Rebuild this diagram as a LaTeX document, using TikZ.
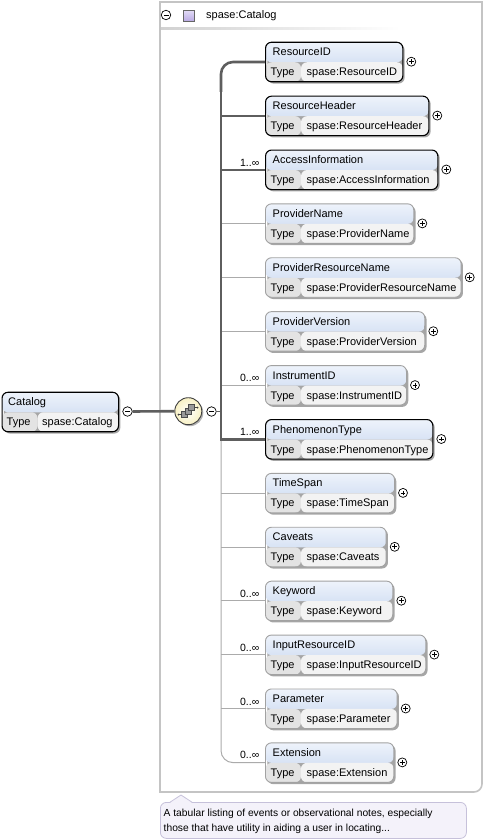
\documentclass[tikz,border=0pt]{standalone}
\usepackage{fontspec}
\setmainfont{Liberation Sans}
\usetikzlibrary{shadows}
\definecolor{hdrtop}{HTML}{EEF3FB}
\definecolor{hdrbot}{HTML}{C2D3EE}
\definecolor{typecell}{HTML}{E3E3E3}
\definecolor{valcell}{HTML}{F3F3F3}
\definecolor{mandline}{HTML}{5E5E5E}
\definecolor{optline}{HTML}{ABABAB}
\definecolor{optborder}{HTML}{A2A2A2}
\definecolor{frame}{HTML}{C4C4C4}
\definecolor{docfill}{HTML}{F4F2FA}
\definecolor{docborder}{HTML}{C6C1DA}
\definecolor{compfill}{HTML}{F8F1C4}
\definecolor{sqtop}{HTML}{E2DAF6}
\definecolor{sqbot}{HTML}{B7A8E2}
\tikzset{
  x=1pt, y=-1pt,
  etext/.style={inner sep=0pt, font=\fontsize{11}{13}\selectfont},
  lbl/.style={inner sep=0pt, font=\fontsize{10.5}{12}\selectfont},
  doctext/.style={inner sep=0pt, font=\fontsize{10.25}{12}\selectfont},
  elembox/.style={rounded corners=6pt, inner sep=0pt, anchor=north west,
    minimum height=39.5pt,
    drop shadow={shadow xshift=1.8pt, shadow yshift=-1.8pt, fill=black, opacity=0.35},
    path picture={
      \shade[top color=hdrtop, bottom color=hdrbot]
        (path picture bounding box.north west) rectangle
        ([yshift=19.5pt]path picture bounding box.south east);
      \fill[typecell] ([yshift=19.5pt]path picture bounding box.south west) rectangle
        ([xshift=35.5pt]path picture bounding box.south west);
      \fill[valcell] ([xshift=35.5pt,yshift=19.5pt]path picture bounding box.south west) rectangle
        (path picture bounding box.south east);
    }},
  mand/.style={draw=black, line width=1.1pt},
  opt/.style={draw=optborder, line width=0.9pt},
  mandwire/.style={draw=mandline, line width=2.6pt},
  optwire/.style={draw=optline, line width=1pt},
  plusc/.style={circle, draw=black, line width=0.7pt, fill=white, minimum size=9pt, inner sep=0pt,
    path picture={
      \draw[line width=0.7pt] ([xshift=-2.4pt]path picture bounding box.center) -- ([xshift=2.4pt]path picture bounding box.center);
      \draw[line width=0.7pt] ([yshift=-2.4pt]path picture bounding box.center) -- ([yshift=2.4pt]path picture bounding box.center);
    }},
  minusc/.style={circle, draw=black, line width=0.7pt, fill=white, minimum size=9.5pt, inner sep=0pt,
    path picture={
      \draw[line width=0.8pt] ([xshift=-2.5pt]path picture bounding box.center) -- ([xshift=2.5pt]path picture bounding box.center);
    }},
  compnode/.style={circle, draw=black!75, line width=0.9pt, minimum size=27pt, inner sep=0pt,
    inner color=white, outer color=compfill,
    drop shadow={shadow xshift=1.5pt, shadow yshift=-1.5pt, fill=black, opacity=0.3}},
  icsq/.style={draw=black!70, fill=black!40, line width=0.5pt},
}
\newcommand{\xel}[6]{%
  \node[elembox,#6,minimum width={(#3-265)*1pt}] (#1) at (265,#2) {};
  \node[etext,anchor=base west] (#1t) at (272.5,#2+14) {#4};
  \node[etext,anchor=base west] (#1k) at (270.5,#2+34) {Type};
  \node[etext,anchor=base west] (#1v) at (306.5,#2+34) {#5};
  \node[plusc] (#1p) at (#3+9,#2+20) {};
}
\newcommand{\xlbl}[3]{%
  \node[lbl,anchor=base east] (#1l) at (259.5,#2+16.5) {#3};
}
\begin{document}
\begin{tikzpicture}
\useasboundingbox (0,0) rectangle (485,840);
% container frame
\draw[frame, line width=1.6pt] (160,2) -- (482,2) -- (482,784) arc (0:90:8) -- (160,792) -- cycle;
\shade[left color=black!18, right color=white] (161,27.5) rectangle (400,29.5);
\node[minusc] (hm) at (166,15) {};
\node[draw=black!60, line width=0.6pt, top color=sqtop, bottom color=sqbot, minimum size=11pt, inner sep=0pt] (hsq) at (189,16) {};
\node[etext, anchor=base west] (htxt) at (206,19) {spase:Catalog};
% bus coordinate
\coordinate (bus) at (221,0);
% elements
\xel{e0}{41.7}{402.3}{ResourceID}{spase:ResourceID}{mand}
\xel{e1}{95.6}{428.3}{ResourceHeader}{spase:ResourceHeader}{mand}
\xel{e2}{149.5}{437.3}{AccessInformation}{spase:AccessInformation}{mand}
\xel{e3}{203.4}{413.3}{ProviderName}{spase:ProviderName}{opt}
\xel{e4}{257.3}{460.7}{ProviderResourceName}{spase:ProviderResourceName}{opt}
\xel{e5}{311.2}{424.3}{ProviderVersion}{spase:ProviderVersion}{opt}
\xel{e6}{365.1}{406}{InstrumentID}{spase:InstrumentID}{opt}
\xel{e7}{419.0}{432.3}{PhenomenonType}{spase:PhenomenonType}{mand}
\xel{e8}{472.9}{394}{TimeSpan}{spase:TimeSpan}{opt}
\xel{e9}{526.8}{385.7}{Caveats}{spase:Caveats}{opt}
\xel{e10}{580.7}{392.3}{Keyword}{spase:Keyword}{opt}
\xel{e11}{634.6}{425.3}{InputResourceID}{spase:InputResourceID}{opt}
\xel{e12}{688.5}{396.7}{Parameter}{spase:Parameter}{opt}
\xel{e13}{742.4}{393.3}{Extension}{spase:Extension}{opt}
% occurrence labels
\xlbl{e2}{149.5}{1..∞}
\xlbl{e6}{365.1}{0..∞}
\xlbl{e7}{419.0}{1..∞}
\xlbl{e10}{580.7}{0..∞}
\xlbl{e11}{634.6}{0..∞}
\xlbl{e12}{688.5}{0..∞}
\xlbl{e13}{742.4}{0..∞}
% root element
\node[elembox,mand,minimum width=116.5pt] (cat) at (1.5,391.7) {};
\node[etext,anchor=base west] (catt) at (8,405.7) {Catalog};
\node[etext,anchor=base west] (catk) at (6.5,425.7) {Type};
\node[etext,anchor=base west] (catv) at (42,425.7) {spase:Catalog};
\node[minusc] (cm1) at (127.5,411.5) {};
% compositor
\node[compnode] (seq) at (188.3,411.2) {};
\draw[icsq] (181.5,411.5) rectangle (187.5,417.5);
\draw[icsq] (185,408) rectangle (191,414);
\draw[icsq] (188.5,404.5) rectangle (194.5,410.5);
\draw[black!75, line width=0.6pt] (178.5,414.5) -- (181.5,414.5);
\fill[black!75] (178.5,414.5) circle (1pt);
\draw[black!75, line width=0.6pt] (194.5,407.5) -- (197.5,407.5);
\fill[black!75] (197.5,407.5) circle (1pt);
\node[minusc] (cm2) at (211.5,411.5) {};
% wires
\draw[mandwire] (cm1.east) -- (seq.west);
\draw[mandline, line width=1.4pt] (cm2.east) -- (cm2.east -| bus);
\draw[optwire, rounded corners=12pt] (e7.west -| bus) |- (e13.west);
\foreach \n in {e3,e4,e5,e6,e8,e9,e10,e11,e12}{
  \draw[optwire] (\n.west -| bus) -- (\n.west);
}
\draw[mandwire, rounded corners=12pt] (e0.west) -| ([yshift=-30pt]e0.west -| bus);
\draw[mandwire] ([yshift=-20pt]e0.west -| bus) |- (e7.west);
\draw[mandwire] (e1.west -| bus) -- (e1.west);
\draw[mandwire] (e2.west -| bus) -- (e2.west);
% documentation callout
\node[draw=docborder, fill=docfill, line width=0.8pt, rounded corners=6pt, anchor=north west,
      minimum width=306pt, minimum height=36pt, inner sep=0pt] (doc) at (160,802) {};
\fill[docfill] (170,802.8) -- (181,795) -- (192,802.8) -- cycle;
\draw[docborder, line width=0.8pt] (170,802.2) -- (181,795) -- (192,802.2);
\node[doctext, anchor=base west] (doc1) at (163.5,816) {A tabular listing of events or observational notes, especially};
\node[doctext, anchor=base west] (doc2) at (163.5,831) {those that have utility in aiding a user in locating...};
\end{tikzpicture}
\end{document}
